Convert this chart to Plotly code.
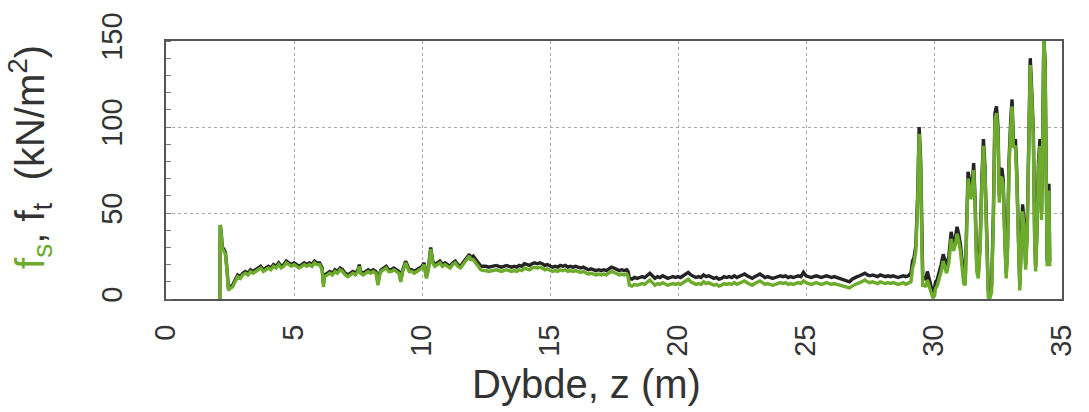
import plotly.graph_objects as go

# Depth (m) and unit resistances f_t (total, black) and f_s (sleeve, green), kN/m^2
depth = [
    2.10, 2.12, 2.16, 2.20, 2.26, 2.32, 2.38, 2.44, 2.50, 2.60,
    2.7, 2.8, 2.9, 3.0, 3.1, 3.2, 3.3, 3.4, 3.5, 3.6,
    3.7, 3.8, 3.9, 4.0, 4.1, 4.2, 4.3, 4.4, 4.5, 4.6,
    4.7, 4.8, 4.9, 5.0, 5.1, 5.2, 5.3, 5.4, 5.5, 5.6,
    5.7, 5.8, 5.9, 6.0, 6.1, 6.15, 6.2, 6.3, 6.4, 6.5,
    6.6, 6.7, 6.8, 6.9, 7.0, 7.1, 7.2, 7.3, 7.4, 7.5,
    7.55, 7.6, 7.7, 7.8, 7.9, 8.0, 8.1, 8.2, 8.28, 8.35,
    8.4, 8.5, 8.6, 8.7, 8.8, 8.9, 9.0, 9.1, 9.17, 9.25,
    9.36, 9.45, 9.5, 9.6, 9.7, 9.8, 9.9, 10.0, 10.08, 10.17,
    10.25, 10.34, 10.42, 10.5, 10.6, 10.7, 10.8, 10.9, 11.0, 11.1,
    11.2, 11.3, 11.4, 11.5, 11.6, 11.7, 11.8, 11.85, 11.9, 12.0,
    12.1, 12.2, 12.3, 12.4, 12.5, 12.6, 12.7, 12.8, 12.9, 13.0,
    13.1, 13.2, 13.3, 13.4, 13.5, 13.6, 13.7, 13.8, 13.9, 14.0,
    14.1, 14.2, 14.3, 14.4, 14.5, 14.6, 14.7, 14.8, 14.9, 15.0,
    15.1, 15.2, 15.3, 15.4, 15.5, 15.6, 15.7, 15.8, 15.9, 16.0,
    16.1, 16.2, 16.3, 16.4, 16.5, 16.6, 16.7, 16.8, 16.9, 17.0,
    17.1, 17.2, 17.3, 17.4, 17.5, 17.6, 17.7, 17.8, 17.9, 18.0,
    18.05, 18.1, 18.2, 18.3, 18.4, 18.5, 18.6, 18.7, 18.8, 18.9,
    19.0, 19.1, 19.2, 19.3, 19.4, 19.5, 19.6, 19.7, 19.8, 19.9,
    20.0, 20.1, 20.2, 20.3, 20.4, 20.5, 20.6, 20.7, 20.8, 20.9,
    21.0, 21.1, 21.2, 21.3, 21.4, 21.5, 21.6, 21.7, 21.8, 21.9,
    22.0, 22.1, 22.2, 22.3, 22.4, 22.5, 22.6, 22.7, 22.8, 22.9,
    23.0, 23.1, 23.2, 23.3, 23.4, 23.5, 23.6, 23.7, 23.8, 23.9,
    24.0, 24.1, 24.2, 24.3, 24.4, 24.5, 24.6, 24.7, 24.8, 24.9,
    25.0, 25.1, 25.2, 25.3, 25.4, 25.5, 25.6, 25.7, 25.8, 25.9,
    26.0, 26.1, 26.2, 26.3, 26.4, 26.5, 26.6, 26.7, 26.8, 26.9,
    27.0, 27.1, 27.2, 27.3, 27.4, 27.5, 27.6, 27.7, 27.8, 27.9,
    28.0, 28.1, 28.2, 28.3, 28.4, 28.5, 28.6, 28.7, 28.8, 28.9,
    29.0, 29.1, 29.16, 29.22, 29.29, 29.36, 29.42, 29.48, 29.52, 29.56,
    29.62, 29.68, 29.74, 29.8, 29.87, 29.96, 30.02, 30.06, 30.12, 30.19,
    30.28, 30.36, 30.42, 30.49, 30.58, 30.67, 30.72, 30.77, 30.84, 30.9,
    30.96, 31.03, 31.1, 31.16, 31.22, 31.28, 31.33, 31.38, 31.44, 31.5,
    31.55, 31.6, 31.67, 31.73, 31.8, 31.87, 31.93, 31.99, 32.06, 32.12,
    32.18, 32.25, 32.32, 32.38, 32.44, 32.5, 32.55, 32.6, 32.65, 32.7,
    32.76, 32.82, 32.87, 32.93, 33.0, 33.05, 33.1, 33.18, 33.23, 33.3,
    33.35, 33.4, 33.46, 33.52, 33.58, 33.64, 33.7, 33.76, 33.82, 33.88,
    33.93, 33.97, 34.02, 34.08, 34.14, 34.2, 34.25, 34.29, 34.34, 34.39,
    34.42, 34.46, 34.49, 34.52,
]

f_t = [
    0, 43, 38, 30, 29, 27, 18, 6, 7, 8,
    11, 14, 13, 15, 16, 15, 17, 16, 17, 18,
    19, 17, 18, 19, 18, 20, 19, 21, 19, 20,
    22, 21, 20, 21, 20, 19, 20, 21, 20, 21,
    20, 22, 21, 21, 18, 9, 14, 15, 16, 15,
    17, 16, 18, 17, 15, 14, 15, 16, 15, 17,
    20, 16, 15, 16, 17, 16, 17, 16, 10, 15,
    17, 18, 19, 17, 17, 18, 17, 16, 11, 17,
    22, 18, 17, 17, 16, 17, 18, 19, 21, 13,
    18, 30, 22, 20, 21, 22, 20, 21, 20, 19,
    21, 22, 20, 19, 21, 23, 25, 26, 24, 25,
    23, 21, 19, 19, 19, 18.5, 19, 19, 19.5, 19,
    18.5, 19, 19.5, 19, 18.5, 19, 18.5, 19.5, 19, 20.5,
    20, 19.5, 20.5, 21, 20.5, 21, 20.5, 19.5, 20, 19,
    18.5, 19, 18.5, 19.5, 19, 19.5, 18.5, 19, 18.5, 19,
    18.5, 18, 18.5, 17.5, 17, 17.5, 17, 16.5, 17, 16.5,
    17, 16.5, 17.5, 18.5, 18, 17, 16.5, 17, 16.5, 17,
    16, 12, 11.5, 12.5, 12, 12.5, 13, 12.5, 14, 15,
    13.5, 12, 13, 12.5, 13.5, 12.5, 12, 12.5, 13, 12.5,
    13, 12.5, 13.5, 14.5, 15.5, 14, 13, 12.5, 13, 12.5,
    14, 13, 13.5, 12.5, 12, 12.5, 11.5, 12, 13, 12.5,
    13, 12.5, 13.5, 12.5, 13, 13.5, 14.5, 13.5, 12.5, 12,
    13, 13.5, 14.5, 13.5, 12.5, 13, 12.5, 12, 12.5, 13,
    13.5, 13, 13.5, 12.5, 13, 12.5, 13, 13.5, 13, 15.5,
    13.5, 13, 12.5, 13, 13.5, 13, 12.5, 13, 13.5, 13,
    12.5, 13, 12.5, 12.5, 12, 11, 10.5, 10, 11.5, 12.5,
    13, 13.5, 14, 15, 14, 13.5, 14, 13.5, 13, 14,
    13.5, 13, 13.5, 13, 13.5, 13, 12.5, 13, 13.5, 13,
    13.5, 15, 22, 24, 31, 60, 100, 80, 40, 13,
    12, 11.5, 16, 12, 9, 3, 6, 10, 11, 14.5,
    20, 26, 22, 19, 25, 39, 35, 31.6, 36, 42,
    38, 32, 22, 12, 11, 40, 74, 70, 62, 68,
    79, 60, 20, 15, 32, 70, 93, 77, 30, 5,
    3, 8, 50, 108, 112, 100, 60, 75, 76, 70,
    40, 15, 30, 80, 105, 116, 92, 93, 75, 40,
    8, 30, 55, 45, 20, 40, 100, 140, 120, 98,
    40, 19, 40, 80, 93, 50, 100, 152, 138, 60,
    22, 60, 67, 22,
]

f_s = [
    0, 43, 37, 29, 28, 26, 17, 5, 6, 7,
    10, 13, 12, 14, 15, 14, 16, 15, 16, 17,
    18, 16, 17, 18, 17, 19, 18, 20, 18, 19,
    21, 20, 19, 20, 19, 18, 19, 20, 19, 20,
    19, 21, 20, 20, 17, 7, 13, 14, 15, 14,
    16, 15, 17, 16, 14, 13, 14, 15, 14, 16,
    19, 15, 14, 15, 16, 15, 16, 15, 8, 14,
    16, 17, 18, 16, 16, 17, 16, 15, 10, 16,
    21, 17, 16, 16, 15, 16, 17, 18, 20, 12,
    17, 29, 21, 19, 20, 21, 19, 20, 19, 18,
    20, 21, 19, 18, 20, 22, 24, 25, 23, 23,
    21, 19, 17, 16.5, 16.5, 16, 16.5, 16.5, 17, 16.5,
    16, 16.5, 17, 16.5, 16, 16.5, 16, 17, 16.5, 18,
    17.5, 17, 18, 18.5, 18, 18.5, 18, 17, 17.5, 16.5,
    16, 16.5, 16, 17, 16.5, 17, 16, 16.5, 16, 16.5,
    16, 15.5, 16, 15, 14.5, 15, 14.5, 14, 14.5, 14,
    14.5, 14, 15, 16, 15.5, 14.5, 14, 14.5, 14, 14.5,
    13, 8, 7.5, 8.5, 8, 8.5, 9, 8.5, 10, 11,
    9.5, 8, 9, 8.5, 9.5, 8.5, 8, 8.5, 9, 8.5,
    9, 8.5, 9.5, 10.5, 11.5, 10, 9, 8.5, 9, 8.5,
    10, 9, 9.5, 8.5, 8, 8.5, 7.5, 8, 9, 8.5,
    9, 8.5, 9.5, 8.5, 9, 9.5, 10.5, 9.5, 8.5, 8,
    9, 9.5, 10.5, 9.5, 8.5, 9, 8.5, 8, 8.5, 9,
    9.5, 9, 9.5, 8.5, 9, 8.5, 9, 9.5, 9, 10.5,
    9.5, 9, 8.5, 9, 9.5, 9, 8.5, 9, 9.5, 9,
    8.5, 9, 8.5, 8.5, 8, 7.5, 7, 6.5, 7.5, 8.5,
    9, 9.5, 10, 11, 10, 9.5, 10, 9.5, 9, 10,
    9.5, 9, 9.5, 9, 9.5, 9, 8.5, 9, 9.5, 8.5,
    9, 10, 18, 21, 28, 56, 96, 76, 36, 8,
    8, 7, 11, 8, 5, 0.5, 2, 6, 7.5, 11,
    16, 22, 18, 15, 21, 35, 31, 28, 32, 38,
    34, 28, 18, 9, 8, 36, 70, 66, 58, 64,
    75, 56, 16, 12, 28, 66, 89, 73, 26, 1,
    0.5, 4, 46, 104, 108, 96, 56, 70, 71, 66,
    36, 12, 26, 76, 101, 112, 88, 89, 71, 36,
    5, 26, 51, 41, 17, 36, 96, 136, 116, 94,
    36, 16, 36, 76, 89, 46, 96, 152, 134, 56,
    19, 56, 63, 19,
]

x_ticks = [0, 5, 10, 15, 20, 25, 30, 35]
y_ticks = [0, 50, 100, 150]

BLACK = "#242424"
GREEN = "#6cab2b"
TEXT = "#333333"
FONT = "Liberation Sans, Arial, Helvetica, sans-serif"

fig = go.Figure()
fig.add_trace(go.Scatter(x=depth, y=f_t, mode="lines", name="f_t",
                         line=dict(color=BLACK, width=3.4)))
fig.add_trace(go.Scatter(x=depth, y=f_s, mode="lines", name="f_s",
                         line=dict(color=GREEN, width=3.4)))

axis_common = dict(
    showline=True, linecolor="#555555", linewidth=2, mirror=True,
    showgrid=True, gridcolor="#a8a8a8", gridwidth=1, griddash="dot",
    zeroline=False, tickangle=-90,
    tickfont=dict(family=FONT, size=29, color=TEXT),
)

fig.update_xaxes(
    range=[0, 35], tickvals=x_ticks, ticktext=[str(v) for v in x_ticks],
    ticks="", ticklabelstandoff=12,
    **axis_common,
)
fig.update_yaxes(
    range=[0, 150], tickvals=y_ticks, ticktext=[str(v) for v in y_ticks],
    ticks="", ticklabelstandoff=30,
    minor=dict(ticks="inside", dtick=10, ticklen=5, tickcolor="#777777",
               showgrid=False),
    **axis_common,
)

# x-axis title
fig.add_annotation(
    xref="paper", yref="paper", x=0.4696, y=-0.33,
    xanchor="center", yanchor="middle", showarrow=False,
    text="Dybde, z (m)",
    font=dict(family=FONT, size=40, color=TEXT),
)

# y-axis title, f_s in the sleeve-friction colour
fig.add_annotation(
    xref="paper", yref="paper", x=-0.152, y=0.55,
    xanchor="center", yanchor="middle", textangle=-90, showarrow=False,
    text=(f"<span style='color:{GREEN}'>f<sub>s</sub></span>,&nbsp;"
          "f<sub>t</sub>&nbsp;&nbsp;(kN/m<sup>2</sup>)"),
    font=dict(family=FONT, size=40, color=TEXT),
)

fig.update_layout(
    width=1089, height=412,
    margin=dict(l=166, r=18, t=35, b=113),
    paper_bgcolor="white", plot_bgcolor="white",
    showlegend=False,
)

fig.write_html("out.html")
